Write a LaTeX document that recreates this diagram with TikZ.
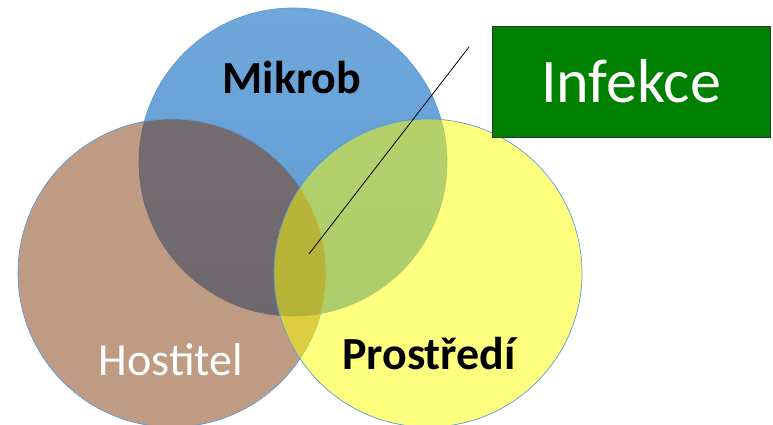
\documentclass[tikz,border=0pt]{standalone}
\usepackage{fontspec}
\setmainfont{Carlito}
\usepackage{xcolor}
\usetikzlibrary{positioning}

\definecolor{mikrobblue}{RGB}{91,155,213}
\definecolor{mikrobtop}{RGB}{112,167,218}
\definecolor{hostbrown}{RGB}{129,55,9}
\definecolor{envyellow}{RGB}{255,255,0}
\definecolor{infgreen}{RGB}{0,128,0}
\definecolor{rimblue}{RGB}{91,155,213}

\begin{document}
\begin{tikzpicture}[x=1pt, y=-1pt,
    ring/.style={circle, minimum size=308pt, inner sep=0pt, draw=rimblue, line width=0.7pt},
    tag/.style={anchor=base, font=\fontsize{46}{50}\selectfont}]
    \useasboundingbox (0,0) rectangle (773,424);

    % Circles
    \node[ring, top color=mikrobtop, bottom color=mikrobblue] (mikrob) at (293,162) {};
    \node[ring, fill=hostbrown, fill opacity=0.5] (hostitel) at (172,273) {};
    \node[ring, fill=envyellow, fill opacity=0.5] (prostredi) at (428,273) {};

    % Labels
    \node[tag, font=\bfseries\fontsize{46}{50}\selectfont] (mikrobtext) at (292,93) {Mikrob};
    \node[tag, text=white] (hostiteltext) at (171,375) {Hostitel};
    \node[tag, font=\bfseries\fontsize{46}{50}\selectfont] (prostreditext) at (429,369) {Prostředí};

    % Result box
    \node[draw=black!80, line width=0.8pt, fill=infgreen, text=white,
          minimum width=278pt, minimum height=111pt, inner sep=0pt,
          font=\fontsize{62}{66}\selectfont] (infekce) at (631,81.5) {Infekce};

    % Pointer
    \coordinate (lead) at (469,47);
    \coordinate (core) at (309,254);
    \draw[line width=0.8pt] (lead) -- (core);
\end{tikzpicture}
\end{document}
